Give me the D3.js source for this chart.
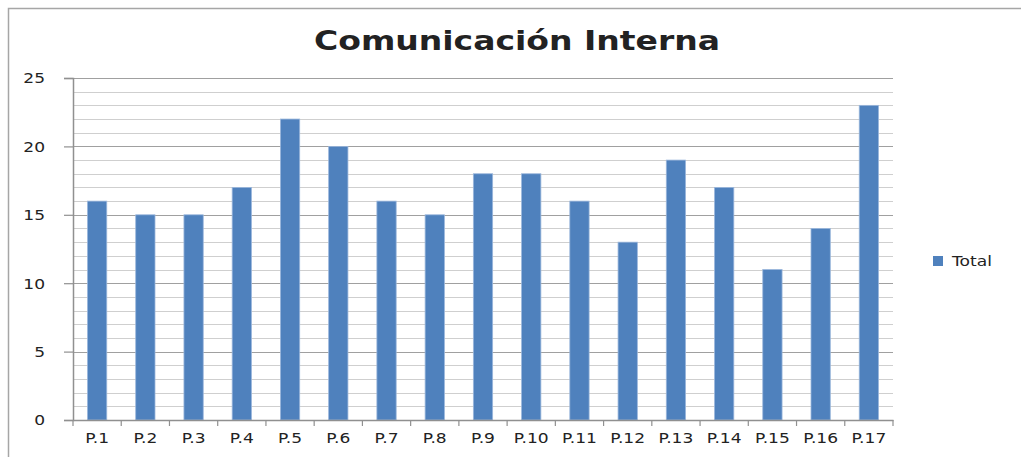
<!DOCTYPE html>
<html>
<head>
<meta charset="utf-8">
<script src="https://cdn.jsdelivr.net/npm/d3@7"></script>
<style>
  body { margin: 0; background: #fff; }
  text { font-family: "DejaVu Sans", "Open Sans", sans-serif; fill: #222; }
</style>
</head>
<body>
<div id="chart"></div>
<script>
const categories = ['P.1', 'P.2', 'P.3', 'P.4', 'P.5', 'P.6', 'P.7', 'P.8', 'P.9', 'P.10', 'P.11', 'P.12', 'P.13', 'P.14', 'P.15', 'P.16', 'P.17'];
const totals = [16, 15, 15, 17, 22, 20, 16, 15, 18, 18, 16, 13, 19, 17, 11, 14, 23];
const yTicks = [0, 5, 10, 15, 20, 25];
const minorTicks = d3.range(0, 26, 1);
const title = 'Comunicación Interna';
const seriesName = 'Total';

const width = 1021, height = 457;
const plot = { left: 73, right: 893, top: 78, bottom: 420 };
const stretch = 1.22; // the original labels look horizontally stretched

const svg = d3.select('#chart')
    .append('svg')
    .attr('width', width)
    .attr('height', height);

// outer frame (only top/left visible in the screenshot)
svg.append('path')
    .attr('d', 'M8.5,457 V8.5 H1021')
    .attr('fill', 'none')
    .attr('stroke', '#a6a6a6')
    .attr('stroke-width', 1.5);

const x = d3.scaleBand()
    .domain(categories)
    .range([plot.left, plot.right])
    .paddingInner(0.6)
    .paddingOuter(0.3);

const y = d3.scaleLinear()
    .domain([0, 25])
    .range([plot.bottom, plot.top]);

// gridlines
svg.append('g')
    .selectAll('line')
    .data(minorTicks)
    .enter()
    .append('line')
    .attr('x1', plot.left)
    .attr('x2', plot.right)
    .attr('y1', d => Math.round(y(d)) + 0.5)
    .attr('y2', d => Math.round(y(d)) + 0.5)
    .attr('stroke', d => d % 5 === 0 ? '#a0a0a0' : '#cfcfcf')
    .attr('stroke-width', 1.2);

// bars
svg.append('g')
    .selectAll('rect')
    .data(totals)
    .enter()
    .append('rect')
    .attr('x', (d, i) => x(categories[i]))
    .attr('y', d => y(d))
    .attr('width', x.bandwidth())
    .attr('height', d => y(0) - y(d))
    .attr('fill', '#4f81bd')
    .attr('stroke', '#9bb7dc')
    .attr('stroke-width', 0.8);

// y axis
const yAxis = svg.append('g')
    .attr('transform', 'translate(' + plot.left + ',0)')
    .call(d3.axisLeft(y).tickValues(yTicks).tickSize(9));
yAxis.select('.domain').attr('stroke', '#909090').attr('stroke-width', 1.5);
yAxis.selectAll('.tick line').attr('stroke', '#909090').attr('stroke-width', 1.2);
yAxis.selectAll('.tick text')
    .attr('x', -28 / stretch)
    .attr('dy', '0.35em')
    .attr('transform', 'scale(' + stretch + ',1)')
    .attr('font-size', 14)
    .attr('fill', '#222')
    .style('font-family', '"DejaVu Sans", sans-serif');

// x axis
const xAxis = svg.append('g')
    .attr('transform', 'translate(0,' + plot.bottom + ')')
    .call(d3.axisBottom(x).tickSize(0).tickPadding(13));
xAxis.select('.domain').attr('stroke', '#909090').attr('stroke-width', 1.5);
xAxis.selectAll('.tick text')
    .attr('transform', 'scale(' + stretch + ',1)')
    .attr('font-size', 14)
    .attr('fill', '#222')
    .style('font-family', '"DejaVu Sans", sans-serif');

// category separator ticks
svg.append('g')
    .selectAll('line')
    .data(d3.range(categories.length + 1))
    .enter()
    .append('line')
    .attr('x1', i => plot.left + i * (plot.right - plot.left) / categories.length)
    .attr('x2', i => plot.left + i * (plot.right - plot.left) / categories.length)
    .attr('y1', plot.bottom)
    .attr('y2', plot.bottom + 6)
    .attr('stroke', '#909090')
    .attr('stroke-width', 1.2);

// title
svg.append('text')
    .attr('x', 517)
    .attr('y', 50)
    .attr('text-anchor', 'middle')
    .attr('font-size', 27)
    .attr('font-weight', 'bold')
    .attr('textLength', 406)
    .attr('lengthAdjust', 'spacingAndGlyphs')
    .text(title);

// legend
svg.append('rect')
    .attr('x', 933)
    .attr('y', 256)
    .attr('width', 10)
    .attr('height', 10)
    .attr('fill', '#4f81bd');

svg.append('text')
    .attr('transform', 'translate(952,266) scale(' + stretch + ',1)')
    .attr('font-size', 14)
    .text(seriesName);
</script>
</body>
</html>
